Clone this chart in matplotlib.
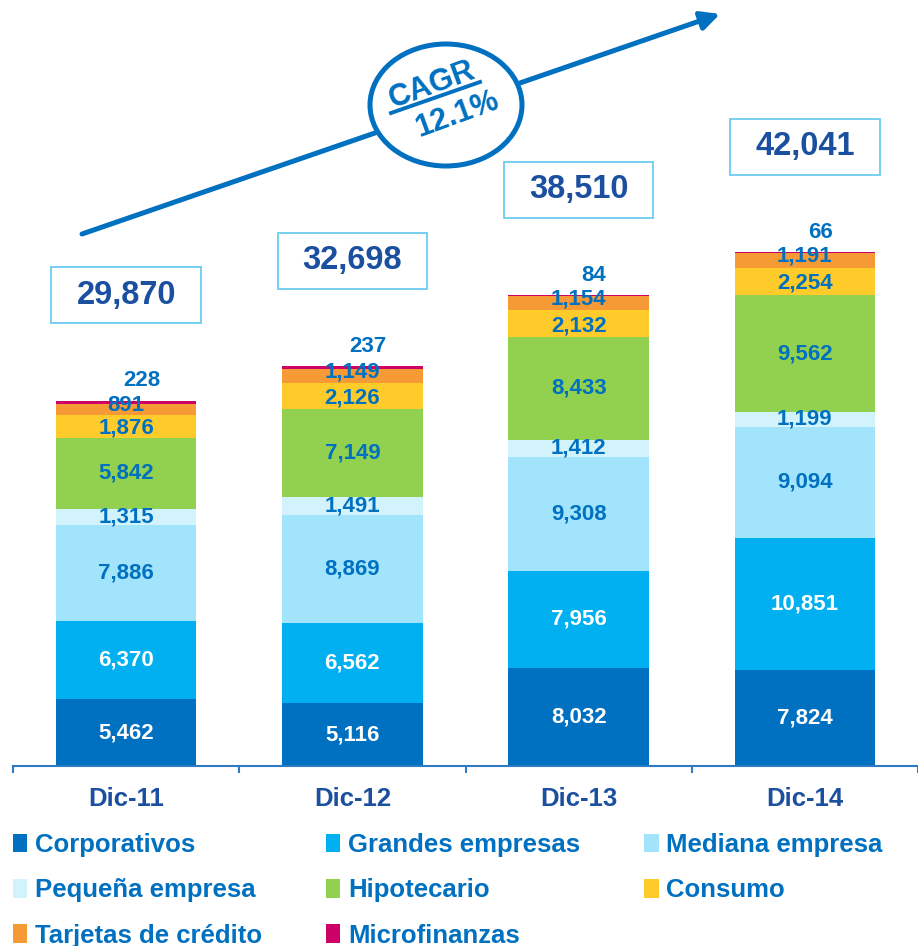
import numpy as np
import matplotlib
matplotlib.use("Agg")
import matplotlib.pyplot as plt
from matplotlib.patches import Ellipse, Rectangle

plt.rcParams["font.family"] = ["Liberation Sans", "DejaVu Sans"]
plt.rcParams["font.weight"] = "bold"

# --- datos ---
periodos = ["Dic-11", "Dic-12", "Dic-13", "Dic-14"]
corporativos = [5462, 5116, 8032, 7824]
grandes = [6370, 6562, 7956, 10851]
mediana = [7886, 8869, 9308, 9094]
pequena = [1315, 1491, 1412, 1199]
hipotecario = [5842, 7149, 8433, 9562]
consumo = [1876, 2126, 2132, 2254]
tarjetas = [891, 1149, 1154, 1191]
microfinanzas = [228, 237, 84, 66]
totales = [29870, 32698, 38510, 42041]
cagr = "12.1%"

series = [
    ("Corporativos", corporativos, "#0070C0", "white"),
    ("Grandes empresas", grandes, "#00B0F0", "white"),
    ("Mediana empresa", mediana, "#A3E4FD", "#0070C0"),
    ("Pequeña empresa", pequena, "#D2F2FC", "#0070C0"),
    ("Hipotecario", hipotecario, "#92D050", "#0070C0"),
    ("Consumo", consumo, "#FFCB2B", "#0070C0"),
    ("Tarjetas de crédito", tarjetas, "#F69A35", "#0070C0"),
    ("Microfinanzas", microfinanzas, "#CC0066", "#0070C0"),
]
# desplazamiento vertical (pt) de las etiquetas en segmentos delgados
nudge = {"Consumo": -1.5, "Tarjetas de crédito": 3.0}

AZUL = "#0070C0"
AZUL_OSC = "#1B4FA0"
W, H = 918, 946

fig = plt.figure(figsize=(W / 100, H / 100), dpi=100)
ax = fig.add_axes([13 / W, (H - 766) / H, 1 - 13 / W, 766 / H])
ax.patch.set_visible(False)

x = np.arange(len(periodos))
base = np.zeros(len(periodos))
handles = []
for nombre, vals, color, col_txt in series:
    vals = np.array(vals, dtype=float)
    bars = ax.bar(x, vals, 0.62, bottom=base, color=color, linewidth=0, label=nombre)
    handles.append(bars)
    if nombre == "Microfinanzas":
        for xi, b, v in zip(x, base + vals, vals):
            ax.annotate(f"{int(v):,}", (xi, b), xytext=(11, 7), textcoords="offset points",
                        ha="center", va="bottom", fontsize=16, color=col_txt)
    else:
        dy = nudge.get(nombre, 0)
        for xi, b, v in zip(x, base, vals):
            ax.annotate(f"{int(v):,}", (xi, b + v / 2), xytext=(0, dy),
                        textcoords="offset points", ha="center", va="center",
                        fontsize=16, color=col_txt)
    base += vals

# cajas con totales
for xi, t in zip(x, totales):
    yc = t + 8650
    ax.add_patch(Rectangle((xi - 0.33, yc - 2290), 0.66, 4580, facecolor="white",
                           edgecolor="#6CCBF2", linewidth=1.3, zorder=3))
    ax.text(xi, yc, f"{t:,}", ha="center", va="center", fontsize=23.5,
            color=AZUL_OSC, zorder=4)

ax.set_xlim(-0.5, 3.5)
ax.set_ylim(0, 62680)
for s in ["top", "left", "right"]:
    ax.spines[s].set_visible(False)
ax.spines["bottom"].set_color("#2E7BC4")
ax.spines["bottom"].set_linewidth(1.5)
ax.set_yticks([])
ax.set_xticks(x)
ax.set_xticklabels(periodos, fontsize=18.5, color=AZUL_OSC)
ax.tick_params(axis="x", which="major", length=0, pad=15)
ax.set_xticks(np.arange(-0.5, 3.6, 1.0), minor=True)
ax.tick_params(axis="x", which="minor", length=5, width=1.5, color="#2E7BC4")

# leyenda (3 columnas, orden por filas)
orden = [0, 3, 6, 1, 4, 7, 2, 5]
leg = fig.legend([handles[i] for i in orden], [series[i][0] for i in orden],
                 loc="upper left", bbox_to_anchor=(13 / W, 1 - 833 / H), ncol=3,
                 frameon=False, fontsize=18.5, handlelength=0.55, handleheight=0.75,
                 handletextpad=0.3, columnspacing=2.5, labelspacing=0.83,
                 borderpad=0, borderaxespad=0)
for t in leg.get_texts():
    t.set_color(AZUL)

# flecha CAGR
ov = fig.add_axes([0, 0, 1, 1])
ov.set_xlim(0, W)
ov.set_ylim(H, 0)
ov.axis("off")
ov.annotate("", xy=(720, 14), xytext=(82, 234),
            arrowprops=dict(arrowstyle="-|>", lw=3.6, color=AZUL, mutation_scale=28,
                            shrinkA=0, shrinkB=0))
ov.add_patch(Ellipse((446, 105), 152, 122, facecolor="white", edgecolor=AZUL,
                     linewidth=3.6, zorder=5))
ov.text(432, 85, "CAGR", rotation=20, ha="center", va="center", fontsize=22,
        color=AZUL, zorder=6)
ov.plot([391, 480], [113, 82], color=AZUL, lw=2.8, zorder=6)
ov.text(457, 115, cagr, rotation=20, ha="center", va="center", fontsize=22,
        color=AZUL, zorder=6)

fig.savefig("out.png", dpi=100)
